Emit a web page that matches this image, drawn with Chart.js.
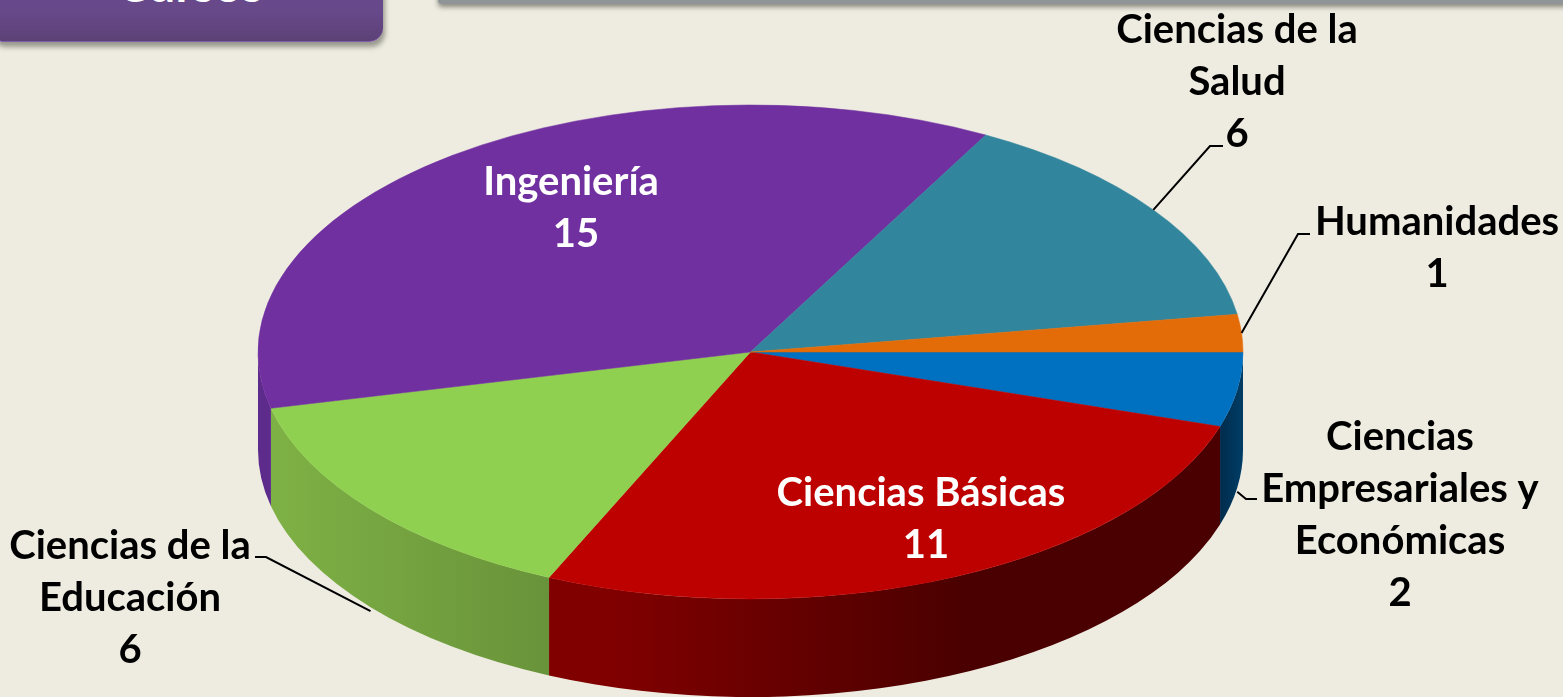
<!DOCTYPE html>
<html lang="es">
<head>
<meta charset="utf-8">
<title>Cursos por área</title>
<script src="https://cdn.jsdelivr.net/npm/chart.js@4/dist/chart.umd.min.js"></script>
<style>
  html, body { margin: 0; padding: 0; width: 1563px; height: 697px; overflow: hidden; background: #eeece1; }
  #btn {
    position: absolute; left: -10px; top: -30px; width: 393px; height: 72px; border-radius: 14px;
    background: linear-gradient(#6a4a8e, #674889 60%, #5c4176); border-bottom: 1px solid #7d5cab; box-sizing: border-box;
    box-shadow: 2px 5px 5px rgba(70, 70, 60, .5);
    color: #fff; font: bold 48px Lato, sans-serif; text-align: center; line-height: 1;
  }
  #btn span { position: absolute; left: 0; width: 400px; top: -10px; }
  #bar {
    position: absolute; left: 438px; right: -10px; top: -10px; height: 14px; border-radius: 4px;
    background: #8f9596; box-shadow: 0 3px 5px rgba(70, 70, 60, .6);
  }
  canvas { position: absolute; left: 0; top: 0; }
</style>
</head>
<body>
<div id="btn"><span>Cursos</span></div>
<div id="bar"></div>
<canvas id="pie" width="1563" height="697"></canvas>
<script>
// datos
const categories = ['Ciencias Empresariales y Económicas', 'Ciencias Básicas', 'Ciencias de la Educación', 'Ingeniería', 'Ciencias de la Salud', 'Humanidades'];
const values = [2, 11, 6, 15, 6, 1];
const labelLines = [
  ['Ciencias', 'Empresariales y', 'Económicas'],
  ['Ciencias Básicas'],
  ['Ciencias de la', 'Educación'],
  ['Ingeniería'],
  ['Ciencias de la', 'Salud'],
  ['Humanidades']
];
const topColors = ['#0070c0', '#bd0000', '#90d050', '#7030a0', '#31859c', '#e36c09'];
const wallColors = [
  ['#002c4c', '#003d66'],
  ['#800000', '#4a0000'],
  ['#7eb145', '#69933a'],
  ['#5d2b8b', '#5d2b8b'],
  null,
  null
];

// geometria del pastel (elipse + altura de la pared)
const CX = 750.5, CY = 352, RX = 492.5, RY = 247, DEPTH = 98;
const LINE_H = 52;
// centro x, y de la primera linea de cada etiqueta, y corrimiento x del valor
const labelPos = [[1400, 437, 0], [921, 493, 5], [130, 546, 0], [571, 182, 5], [1237, 30, 0], [1437, 222, 0]];
const labelInk = ['#000', '#fff', '#000', '#fff', '#000', '#000'];
// codo de la linea guia (dos puntos) y si toca la pared de abajo
const leaders = [
  { pts: [[1246, 499], [1257, 499]], wall: true },
  null,
  { pts: [[266, 557], [255, 557]], wall: true },
  null,
  { pts: [[1210, 146], [1223, 146]], wall: false },
  { pts: [[1298, 234], [1310, 234]], wall: false }
];

function drawWalls(ctx, arcs) {
  arcs.forEach((arc, i) => {
    const s = Math.max(arc.startAngle, 0), e = Math.min(arc.endAngle, Math.PI);
    if (e <= s || !wallColors[i]) return;
    const x0 = CX + RX * Math.cos(e), x1 = CX + RX * Math.cos(s);
    const g = ctx.createLinearGradient(x0, 0, x1, 0);
    g.addColorStop(i === 1 ? 0.1 : 0, wallColors[i][0]);
    g.addColorStop(i === 1 ? 0.62 : 1, wallColors[i][1]);
    ctx.beginPath();
    ctx.ellipse(CX, CY, RX, RY, 0, s, e, false);
    ctx.ellipse(CX, CY + DEPTH, RX, RY, 0, e, s, true);
    ctx.closePath();
    ctx.fillStyle = g;
    ctx.fill();
  });
}

function drawLabels(ctx, arcs) {
  ctx.strokeStyle = '#000';
  ctx.lineWidth = 2;
  arcs.forEach((arc, i) => {
    const l = leaders[i];
    if (!l) return;
    const mid = (arc.startAngle + arc.endAngle) / 2;
    ctx.beginPath();
    ctx.moveTo(CX + RX * Math.cos(mid), CY + RY * Math.sin(mid) + (l.wall ? DEPTH + 4 : 0));
    l.pts.forEach(p => ctx.lineTo(p[0], p[1]));
    ctx.stroke();
  });
  ctx.font = 'bold 40px Lato, sans-serif';
  ctx.textAlign = 'center';
  ctx.textBaseline = 'middle';
  labelLines.forEach((lines, i) => {
    ctx.fillStyle = labelInk[i];
    const [x, y, dx] = labelPos[i];
    lines.forEach((t, k) => ctx.fillText(t, x, y + k * LINE_H));
    ctx.fillText(String(values[i]), x + dx, y + lines.length * LINE_H);
  });
}

// aplasta el pie de chart.js en una elipse y le pone la pared
const pie3d = {
  id: 'pie3d',
  beforeDatasetsDraw(chart) {
    const ctx = chart.ctx, arcs = chart.getDatasetMeta(0).data, a = arcs[0];
    drawWalls(ctx, arcs);
    ctx.save();
    ctx.translate(CX, CY);
    ctx.scale(RX / a.outerRadius, RY / a.outerRadius);
    ctx.translate(-a.x, -a.y);
  },
  afterDatasetsDraw(chart) {
    chart.ctx.restore();
    drawLabels(chart.ctx, chart.getDatasetMeta(0).data);
  }
};

new Chart(document.getElementById('pie'), {
  type: 'pie',
  data: {
    labels: categories,
    datasets: [{ data: values, backgroundColor: topColors, borderColor: topColors, borderWidth: 0.5, clip: false }]
  },
  options: {
    responsive: false,
    animation: false,
    events: [],
    rotation: 90,
    layout: { padding: 0 },
    plugins: { legend: { display: false }, tooltip: { enabled: false } }
  },
  plugins: [pie3d]
});
</script>
</body>
</html>
